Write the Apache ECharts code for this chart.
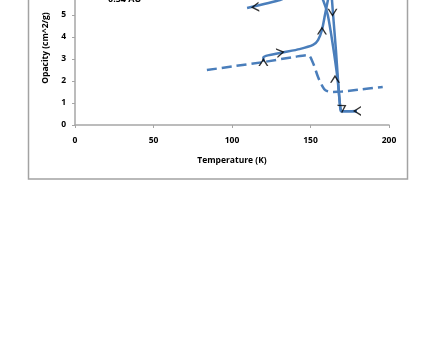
<!DOCTYPE html>
<html>
<head>
<meta charset="utf-8">
<script src="https://cdn.jsdelivr.net/npm/echarts@6/dist/echarts.min.js"></script>
<style>
  html, body { margin: 0; padding: 0; background: #fff; overflow: hidden; }
  #wrap { position: relative; width: 436px; height: 337px; overflow: hidden; }
  #chart { position: absolute; left: 0; top: -60px; width: 436px; height: 397px; }
</style>
</head>
<body>
<div id="wrap"><div id="chart"></div></div>
<script>
// heating branch (solid)
const heatT = [120, 120, 130.6, 143, 151.6, 154.8, 157.3, 159.2, 161.1, 162.5, 163.4, 164.3, 166.2, 167.5, 168.8, 169.4, 179.6]
const heatY = [2.88, 3.09, 3.27, 3.45, 3.64, 3.86, 4.32, 5.0, 5.68, 6.15, 5.9, 5.09, 3.4, 2.05, 0.9, 0.62, 0.64]

// cooling branch (solid)
const coolT = [179.6, 170, 168.8, 167.3, 164.3, 161, 158, 155, 148, 140, 130.6, 109.6]
const coolY = [0.62, 0.62, 0.9, 2.05, 3.6, 5.0, 5.68, 6.05, 6.1, 5.95, 5.68, 5.32]

// dashed curve
const dashT = [84, 100, 120, 140, 148.4, 151.6, 154.8, 157.3, 159.5, 164, 170, 180, 196]
const dashY = [2.5, 2.66, 2.86, 3.1, 3.18, 2.82, 2.18, 1.8, 1.58, 1.5, 1.52, 1.6, 1.73]

// direction arrows: [T, opacity, rotation]
const arrows = [
  [114.6, 5.36, 95],
  [164.0, 5.1, 180],
  [157.3, 4.3, 0],
  [131.0, 3.3, -80],
  [120.0, 2.86, 0],
  [165.6, 2.1, 0],
  [170.7, 0.82, -60],
  [179.6, 0.64, 90]
]

const xTicks = [0, 50, 100, 150, 200]
const yTicks = [0, 1, 2, 3, 4, 5, 6, 7]

const zip = (a, b) => a.map((v, i) => [v, b[i]])
const blue = '#4a7ebb'
const font = '"Open Sans", "Liberation Sans", sans-serif'
const chevron = 'path://M5,0L10,8L8.4,8L5,2.6L1.6,8L0,8Z'

const chart = echarts.init(document.getElementById('chart'))
chart.setOption({
  animation: false,
  grid: { left: 75, right: 47, top: 31, bottom: 212 },
  graphic: [
    {
      type: 'rect',
      shape: { x: 28.5, y: -10, width: 379, height: 249 },
      style: { fill: 'none', stroke: '#a3a3a3', lineWidth: 1.5 },
      silent: true
    },
    {
      type: 'text',
      left: 108,
      top: 55,
      style: { text: '0.54 AU', font: 'bold 9px ' + font, fill: '#000' }
    }
  ],
  xAxis: {
    type: 'value',
    min: xTicks[0],
    max: xTicks[xTicks.length - 1],
    interval: 50,
    name: 'Temperature (K)',
    nameLocation: 'middle',
    nameGap: 31,
    nameTextStyle: { fontFamily: font, fontWeight: 'bold', fontSize: 8.5, color: '#000' },
    axisLine: { lineStyle: { color: '#a6a6a6', width: 1.5 } },
    axisTick: { show: true, inside: false, length: 3, lineStyle: { color: '#a6a6a6' } },
    axisLabel: { fontFamily: font, fontWeight: 'bold', fontSize: 8.5, color: '#000', margin: 11 },
    splitLine: { show: false }
  },
  yAxis: {
    type: 'value',
    min: yTicks[0],
    max: yTicks[yTicks.length - 1],
    interval: 1,
    name: 'Opacity (cm^2/g)',
    nameLocation: 'middle',
    nameGap: 21,
    nameTextStyle: { fontFamily: font, fontWeight: 'bold', fontSize: 8.5, color: '#000' },
    axisLine: { show: true, lineStyle: { color: '#a6a6a6', width: 1.5 } },
    axisTick: { show: true, inside: false, length: 3, lineStyle: { color: '#a6a6a6' } },
    axisLabel: { fontFamily: font, fontWeight: 'bold', fontSize: 8.5, color: '#000', margin: 9 },
    splitLine: { show: false }
  },
  series: [
    {
      name: 'dashed',
      type: 'line',
      data: zip(dashT, dashY),
      smooth: 0.3,
      showSymbol: false,
      lineStyle: { color: blue, width: 2.5, type: [10, 5] }
    },
    {
      name: 'heating',
      type: 'line',
      data: zip(heatT, heatY),
      smooth: 0.2,
      showSymbol: false,
      lineStyle: { color: blue, width: 2.5 }
    },
    {
      name: 'cooling',
      type: 'line',
      data: zip(coolT, coolY),
      smooth: 0.2,
      showSymbol: false,
      lineStyle: { color: blue, width: 2.5 }
    },
    {
      name: 'arrows',
      type: 'scatter',
      data: arrows.map(a => ({ value: [a[0], a[1]], symbolRotate: a[2] })),
      symbol: chevron,
      symbolSize: [10, 8],
      itemStyle: { color: '#000' },
      z: 5
    }
  ]
})
</script>
</body>
</html>
